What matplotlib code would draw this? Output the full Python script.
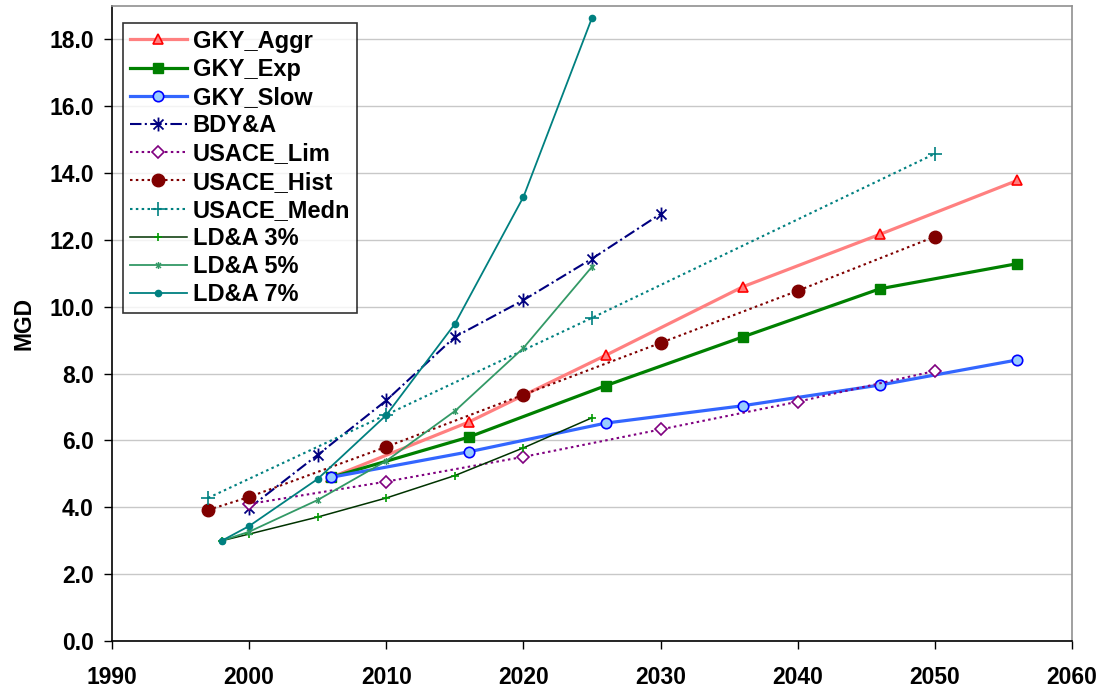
import matplotlib
matplotlib.use("Agg")
import matplotlib.pyplot as plt
from matplotlib.path import Path

plt.rcParams["font.family"] = ["Liberation Sans", "DejaVu Sans"]
plt.rcParams["font.weight"] = "bold"

# ---- data ----
gky_years = [2006, 2016, 2026, 2036, 2046, 2056]
gky_aggr = [4.9, 6.55, 8.55, 10.6, 12.17, 13.78]
gky_exp = [4.9, 6.1, 7.64, 9.1, 10.54, 11.29]
gky_slow = [4.9, 5.66, 6.52, 7.04, 7.66, 8.41]

bdy_years = [2000, 2005, 2010, 2015, 2020, 2025, 2030]
bdy = [3.98, 5.57, 7.2, 9.1, 10.2, 11.44, 12.78]

lim_years = [2000, 2010, 2020, 2030, 2040, 2050]
usace_lim = [4.1, 4.77, 5.51, 6.33, 7.16, 8.08]

hist_years = [1997, 2000, 2010, 2020, 2030, 2040, 2050]
usace_hist = [3.92, 4.31, 5.81, 7.37, 8.92, 10.48, 12.1]

medn_years = [1997, 2010, 2025, 2050]
usace_medn = [4.28, 6.77, 9.67, 14.58]

ld_years = [1998, 2000, 2005, 2010, 2015, 2020, 2025]
ld3 = [3.0, 3.2, 3.71, 4.28, 4.95, 5.78, 6.68]
ld5 = [3.0, 3.27, 4.22, 5.39, 6.88, 8.77, 11.2]
ld7 = [3.0, 3.44, 4.85, 6.76, 9.49, 13.29, 18.65]

# Excel-style star: X with a vertical bar
star = Path([(0, -1), (0, 1), (-0.72, -0.72), (0.72, 0.72), (-0.72, 0.72), (0.72, -0.72)],
            [Path.MOVETO, Path.LINETO, Path.MOVETO, Path.LINETO, Path.MOVETO, Path.LINETO])

DOT = (0, (1.2, 1.6))

fig = plt.figure(figsize=(11.06, 6.92), dpi=100)
ax = fig.add_axes([0.1013, 0.0737, 0.868, 0.9176])

ax.plot(gky_years, gky_aggr, color="#FF8080", lw=2.3, marker="^", ms=7.5,
        mfc="#FF8080", mec="#FF0000", mew=1.2, label="GKY_Aggr", zorder=3)
ax.plot(gky_years, gky_exp, color="#008000", lw=2.3, marker="s", ms=7,
        mfc="#008000", mec="#008000", label="GKY_Exp", zorder=3)
ax.plot(gky_years, gky_slow, color="#3366FF", lw=2.3, marker="o", ms=7.5,
        mfc="#99CCFF", mec="#0000FF", mew=1.2, label="GKY_Slow", zorder=3)
ax.plot(bdy_years, bdy, color="#000080", lw=1.5, ls=(0, (5.5, 1.6, 1, 1.6)), marker=star,
        ms=10, mec="#000080", mew=1.3, label="BDY&A", zorder=3)
ax.plot(lim_years, usace_lim, color="#800080", lw=1.5, ls=DOT, marker="D", ms=6,
        mfc="white", mec="#800080", mew=1.2, label="USACE_Lim", zorder=3)
ax.plot(hist_years, usace_hist, color="#800000", lw=1.5, ls=DOT, marker="o", ms=9,
        mfc="#800000", mec="#800000", label="USACE_Hist", zorder=3)
ax.plot(medn_years, usace_medn, color="#008080", lw=1.5, ls=DOT, marker="+", ms=10,
        mec="#008080", mew=1.2, label="USACE_Medn", zorder=3)
ax.plot(ld_years, ld3, color="#003300", lw=1.1, marker="+", ms=6,
        mec="#009900", mew=1.2, label="LD&A 3%", zorder=3)
ax.plot(ld_years, ld5, color="#339966", lw=1.3, marker=star, ms=5,
        mec="#339966", mew=1.0, label="LD&A 5%", zorder=3)
ax.plot(ld_years, ld7, color="#008080", lw=1.3, marker="o", ms=4.5,
        mfc="#008080", mec="#008080", label="LD&A 7%", zorder=3)

ax.set_xlim(1990, 2060)
ax.set_ylim(0, 19)
ax.set_xticks(range(1990, 2061, 10))
ax.set_yticks(range(0, 19, 2))
ax.set_yticklabels([f"{v:.1f}" for v in range(0, 19, 2)])
ax.yaxis.grid(True, color="#C8C8C8", lw=1)
ax.set_axisbelow(True)
ax.tick_params(axis="both", direction="out", length=6, width=1, labelsize=16.5)
ax.tick_params(axis="x", pad=12)
ax.tick_params(axis="y", pad=7)
ax.spines["left"].set_color("black")
ax.spines["bottom"].set_color("black")
ax.spines["top"].set_color("#909090")
ax.spines["right"].set_color("#909090")
for s in ax.spines.values():
    s.set_linewidth(1.2)
ax.set_ylabel("MGD", fontsize=16.5, weight="bold", labelpad=10)

leg = ax.legend(loc="upper left", bbox_to_anchor=(0.0115, 0.974), borderaxespad=0,
                fontsize=17, frameon=True, fancybox=False, edgecolor="black",
                handlelength=2.4, handletextpad=0.25, labelspacing=0.22,
                borderpad=0.3, markerscale=1.0)
leg.get_frame().set_linewidth(1.2)

fig.savefig("out.png", dpi=100)
